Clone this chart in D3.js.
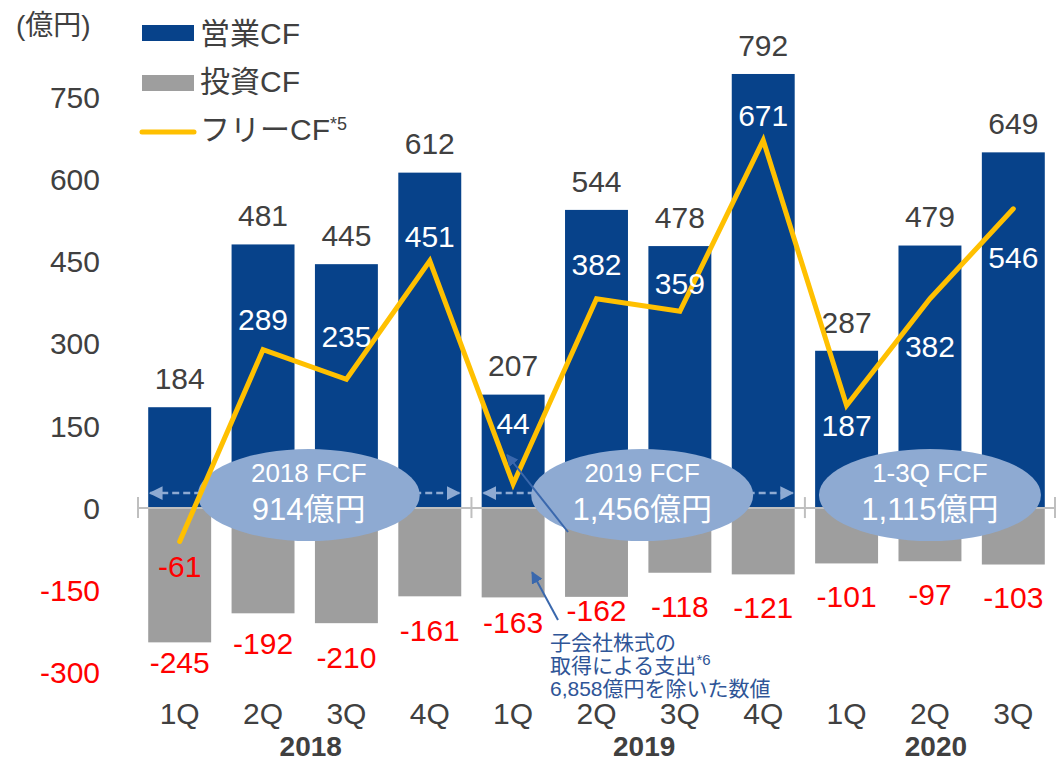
<!DOCTYPE html>
<html>
<head>
<meta charset="utf-8">
<script src="https://cdn.jsdelivr.net/npm/d3@7"></script>
<style>
  body { margin: 0; background: #fff; }
  svg text { font-family: "Liberation Sans", Arial, "Noto Sans CJK JP", sans-serif; }
</style>
</head>
<body>
<div id="visualization"></div>
<script>
// Chart data (億円)
const years = ["2018", "2019", "2020"];
const quarters = ["1Q", "2Q", "3Q", "4Q", "1Q", "2Q", "3Q", "4Q", "1Q", "2Q", "3Q"];
const quarterYear = ["2018", "2018", "2018", "2018", "2019", "2019", "2019", "2019", "2020", "2020", "2020"];
const operatingCF = [184, 481, 445, 612, 207, 544, 478, 792, 287, 479, 649];
const investingCF = [-245, -192, -210, -161, -163, -162, -118, -121, -101, -97, -103];
const freeCF = [-61, 289, 235, 451, 44, 382, 359, 671, 187, 382, 546];
const yTicks = [-300, -150, 0, 150, 300, 450, 600, 750];
const fcfTotals = [
  {year: "2018", title: "2018 FCF", value: "914億円"},
  {year: "2019", title: "2019 FCF", value: "1,456億円"},
  {year: "2020", title: "1-3Q FCF", value: "1,115億円"}
];

// Label nudges (px) so the values do not collide with bars and the line.
const fcfLabelDy = [25, -30, -43, -25, -61, -34, -28, -25, 20, 48, 48];
const invLabelDy = [20, 30, 34, 34, 25, 13, 33, 33, 33, 33, 33];

const totalWidth = 1059;
const totalHeight = 764;

const blue = "#07428a";
const gray = "#9e9e9e";
const yellow = "#ffc000";
const textGray = "#404040";
const red = "#ff0000";
const ellipseBlue = "#8eaad2";

const svg = d3.select("#visualization")
  .append("svg")
  .attr("width", totalWidth)
  .attr("height", totalHeight);

const keys = quarters.map((q, i) => quarterYear[i] + "-" + q);

const x = d3.scaleBand().domain(keys).range([138, 1055])
  .paddingInner(0.245).paddingOuter(0.1225);
const y = d3.scaleLinear().domain([-300, 750]).range([672.5, 97]);
const cx = i => x(keys[i]) + x.bandwidth() / 2;
const gap = (x.step() - x.bandwidth()) / 2;

// Y axis labels
svg.append("g").selectAll("text")
  .data(yTicks)
  .join("text")
    .attr("x", 100)
    .attr("y", d => y(d))
    .attr("dy", "0.36em")
    .attr("text-anchor", "end")
    .style("font-size", "30px")
    .style("fill", d => d < 0 ? red : textGray)
    .text(d => d);

svg.append("text")
  .attr("x", 16).attr("y", 25).attr("dy", "0.36em")
  .style("font-size", "28px").style("fill", textGray)
  .text("(億円)");

// Bars
svg.append("g").selectAll("rect")
  .data(operatingCF)
  .join("rect")
    .attr("x", (d, i) => x(keys[i]))
    .attr("y", d => y(d))
    .attr("width", x.bandwidth())
    .attr("height", d => y(0) - y(d))
    .style("fill", blue);

svg.append("g").selectAll("rect")
  .data(investingCF)
  .join("rect")
    .attr("x", (d, i) => x(keys[i]))
    .attr("y", y(0))
    .attr("width", x.bandwidth())
    .attr("height", d => y(d) - y(0))
    .style("fill", gray);

// Zero line with group separators
svg.append("line")
  .attr("x1", 138).attr("x2", 1055)
  .attr("y1", y(0)).attr("y2", y(0))
  .style("stroke", "#bfbfbf").style("stroke-width", 2);

const groupEdges = [0, 4, 8].map(i => x(keys[i]) - gap).concat([x(keys[10]) + x.bandwidth() + gap]);
svg.append("g").selectAll("line")
  .data(groupEdges)
  .join("line")
    .attr("x1", d => d).attr("x2", d => d)
    .attr("y1", y(0) - 11).attr("y2", y(0) + 10)
    .style("stroke", "#bfbfbf").style("stroke-width", 2);

// Arrow markers
const defs = svg.append("defs");
defs.append("marker")
  .attr("id", "dashHead")
  .attr("viewBox", "0 0 10 10")
  .attr("refX", 9).attr("refY", 5)
  .attr("markerWidth", 5.5).attr("markerHeight", 5.5)
  .attr("markerUnits", "strokeWidth")
  .attr("orient", "auto-start-reverse")
  .append("path").attr("d", "M0,0 L10,5 L0,10 Z").style("fill", ellipseBlue);
defs.append("marker")
  .attr("id", "noteHead")
  .attr("viewBox", "0 0 10 10")
  .attr("refX", 9).attr("refY", 5)
  .attr("markerWidth", 6).attr("markerHeight", 6)
  .attr("markerUnits", "strokeWidth")
  .attr("orient", "auto")
  .append("path").attr("d", "M0,0 L10,5 L0,10 Z").style("fill", "#3a68ad");

// Dashed span arrows for 2018 and 2019
const groupIdx = yr => quarterYear.map((q, i) => q === yr ? i : -1).filter(i => i >= 0);
["2018", "2019"].forEach(yr => {
  const idx = groupIdx(yr);
  svg.append("line")
    .attr("x1", x(keys[idx[0]]) + 2)
    .attr("x2", x(keys[idx[idx.length - 1]]) + x.bandwidth() - 2)
    .attr("y1", y(0) - 15).attr("y2", y(0) - 15)
    .attr("marker-start", "url(#dashHead)")
    .attr("marker-end", "url(#dashHead)")
    .style("stroke", ellipseBlue)
    .style("stroke-width", 2.5)
    .style("stroke-dasharray", "7,4");
});

// Op CF labels above bars
svg.append("g").selectAll("text")
  .data(operatingCF)
  .join("text")
    .attr("x", (d, i) => cx(i))
    .attr("y", d => y(d) - 29)
    .attr("dy", "0.36em")
    .attr("text-anchor", "middle")
    .style("font-size", "30px")
    .style("fill", textGray)
    .text(d => d);

// FCF total ellipses
fcfTotals.forEach(t => {
  const idx = groupIdx(t.year);
  const mid = (x(keys[idx[0]]) + x(keys[idx[idx.length - 1]]) + x.bandwidth()) / 2 + (t.year === "2020" ? 0 : 4);
  const g = svg.append("g");
  g.append("ellipse")
    .attr("cx", mid).attr("cy", y(0) - 13)
    .attr("rx", 111).attr("ry", 46)
    .style("fill", ellipseBlue);
  g.append("text")
    .attr("x", mid).attr("y", y(0) - 35).attr("dy", "0.36em")
    .attr("text-anchor", "middle")
    .style("font-size", "26px").style("fill", "#fff")
    .text(t.title);
  g.append("text")
    .attr("x", mid).attr("y", y(0) + 1).attr("dy", "0.36em")
    .attr("text-anchor", "middle")
    .style("font-size", "31px").style("fill", "#fff")
    .text(t.value);
});

// Free CF line
const line = d3.line().x((d, i) => cx(i)).y(d => y(d));
svg.append("path")
  .datum(freeCF)
  .attr("d", line)
  .style("fill", "none")
  .style("stroke", yellow)
  .style("stroke-width", 5)
  .style("stroke-linejoin", "miter")
  .style("stroke-linecap", "round");

// FCF labels
svg.append("g").selectAll("text")
  .data(freeCF)
  .join("text")
    .attr("x", (d, i) => cx(i))
    .attr("y", (d, i) => y(d) + fcfLabelDy[i])
    .attr("dy", "0.36em")
    .attr("text-anchor", "middle")
    .style("font-size", "30px")
    .style("fill", d => d < 0 ? red : "#fff")
    .text(d => d);

// Investing CF labels
svg.append("g").selectAll("text")
  .data(investingCF)
  .join("text")
    .attr("x", (d, i) => cx(i))
    .attr("y", (d, i) => y(d) + invLabelDy[i])
    .attr("dy", "0.36em")
    .attr("text-anchor", "middle")
    .style("font-size", "30px")
    .style("fill", red)
    .text(d => d);

// X axis: quarters and years
svg.append("g").selectAll("text")
  .data(quarters)
  .join("text")
    .attr("x", (d, i) => cx(i))
    .attr("y", 713)
    .attr("dy", "0.36em")
    .attr("text-anchor", "middle")
    .style("font-size", "30px")
    .style("fill", textGray)
    .text(d => d);

svg.append("g").selectAll("text")
  .data(years)
  .join("text")
    .attr("x", yr => {
      const idx = groupIdx(yr);
      return (x(keys[idx[0]]) + x(keys[idx[idx.length - 1]]) + x.bandwidth()) / 2 + 6;
    })
    .attr("y", 746)
    .attr("dy", "0.36em")
    .attr("text-anchor", "middle")
    .style("font-size", "28px")
    .style("font-weight", "bold")
    .style("fill", textGray)
    .text(d => d);

// Annotation for 2019 1Q
const n = 4;
const noteX = 550;
svg.append("line")
  .attr("x1", 558).attr("y1", 620)
  .attr("x2", cx(n) + 19).attr("y2", y(-117))
  .attr("marker-end", "url(#noteHead)")
  .style("stroke", "#3a68ad").style("stroke-width", 2);
svg.append("line")
  .attr("x1", 568).attr("y1", 532)
  .attr("x2", cx(n) - 6).attr("y2", y(97))
  .attr("marker-end", "url(#noteHead)")
  .style("stroke", "#3a68ad").style("stroke-width", 2);

const note = svg.append("g").style("fill", "#2f5597").style("font-size", "21px");
note.append("text").attr("x", noteX).attr("y", 650).text("子会社株式の");
const l2 = note.append("text").attr("x", noteX).attr("y", 673);
l2.append("tspan").text("取得による支出");
l2.append("tspan").attr("dy", -8).style("font-size", "15px").text("*6");
note.append("text").attr("x", noteX).attr("y", 696).text("6,858億円を除いた数値");

// Legend
const legend = svg.append("g");
legend.append("rect").attr("x", 142).attr("y", 25).attr("width", 52).attr("height", 16).style("fill", blue);
legend.append("rect").attr("x", 142).attr("y", 75).attr("width", 52).attr("height", 16).style("fill", gray);
legend.append("line").attr("x1", 142).attr("x2", 194).attr("y1", 132).attr("y2", 132)
  .style("stroke", yellow).style("stroke-width", 5).style("stroke-linecap", "round");
const legText = (yy, label, sup) => {
  const t = legend.append("text").attr("x", 200).attr("y", yy).attr("dy", "0.36em")
    .style("font-size", "30px").style("fill", textGray);
  t.append("tspan").text(label);
  if (sup) t.append("tspan").attr("dy", -10).style("font-size", "18px").text(sup);
};
legText(33, "営業CF");
legText(81, "投資CF");
legText(129, "フリーCF", "*5");
</script>
</body>
</html>
